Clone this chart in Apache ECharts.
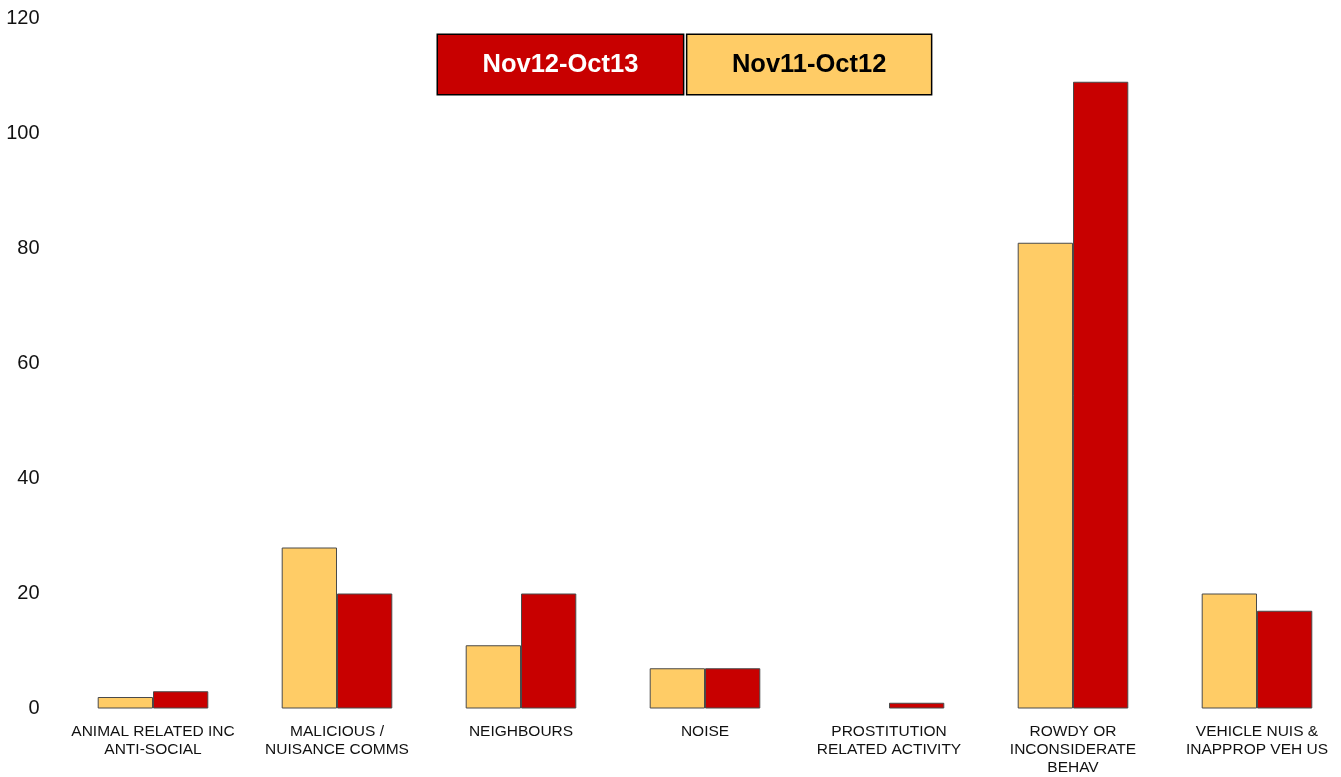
<!DOCTYPE html>
<html>
<head>
<meta charset="utf-8">
<script src="https://cdn.jsdelivr.net/npm/echarts@6/dist/echarts.min.js"></script>
<style>
	html, body { margin: 0; padding: 0; background: #fff; }
	#main { width: 1341px; height: 777px; }
</style>
</head>
<body>
<div id="main"></div>
<script>
	// categories and values
	var categories = [
		'ANIMAL RELATED INC\nANTI-SOCIAL',
		'MALICIOUS /\nNUISANCE COMMS',
		'NEIGHBOURS',
		'NOISE',
		'PROSTITUTION\nRELATED ACTIVITY',
		'ROWDY OR\nINCONSIDERATE\nBEHAV',
		'VEHICLE NUIS &\nINAPPROP VEH US'
	];
	var prevYear = [2, 28, 11, 7, 0, 81, 20];      // Nov11-Oct12
	var thisYear = [3, 20, 20, 7, 1, 109, 17];     // Nov12-Oct13
	var yTicks = [0, 20, 40, 60, 80, 100, 120];

	var RED = '#C80000';
	var YELLOW = '#FFCC66';

	var myChart = echarts.init(document.getElementById('main'));

	// zero bars get no outline (nothing is drawn for them in the original)
	function toBars(arr) {
		return arr.map(function(v) {
			return v === 0 ? { value: v, itemStyle: { borderWidth: 0 } } : v;
		});
	}

	var legendBox = {
		fontFamily: 'Liberation Sans, Arial, sans-serif',
		fontSize: 25.5,
		fontWeight: 'bold',
		lineHeight: 25,
		padding: [19, 44.5, 15, 44.5],
		borderColor: '#000',
		borderWidth: 1.5
	};

	var option = {
		animation: false,
		backgroundColor: '#fff',
		legend: {
			left: 427,
			top: 28.5,
			itemWidth: 0,
			itemHeight: 0,
			itemGap: -3,
			selectedMode: false,
			data: [
				{ name: 'Nov12-Oct13', icon: 'rect',
				  textStyle: Object.assign({}, legendBox, { color: '#fff', backgroundColor: RED }) },
				{ name: 'Nov11-Oct12', icon: 'rect',
				  textStyle: Object.assign({}, legendBox, { color: '#000', backgroundColor: YELLOW }) }
			]
		},
		// category centres sit on the grid edges (boundaryGap false),
		// the outer half-bands would not fit inside the canvas otherwise
		grid: {
			left: 153,
			top: 18.5,
			right: 84,
			bottom: 68.5
		},
		xAxis: {
			type: 'category',
			data: categories,
			boundaryGap: false,
			axisLine: { show: false },
			axisTick: { show: false },
			axisLabel: {
				interval: 0,
				margin: 14,
				color: '#111',
				fontFamily: 'Liberation Sans, Arial, sans-serif',
				fontSize: 15.5,
				lineHeight: 18,
				align: 'center'
			}
		},
		yAxis: {
			type: 'value',
			min: yTicks[0],
			max: yTicks[yTicks.length - 1],
			interval: yTicks[1] - yTicks[0],
			axisLine: { show: false },
			axisTick: { show: false },
			splitLine: { show: false },
			axisLabel: {
				margin: 113.5,
				color: '#111',
				fontFamily: 'Liberation Sans, Arial, sans-serif',
				fontSize: 20
			}
		},
		series: [
			{
				name: 'Nov11-Oct12',
				type: 'bar',
				data: toBars(prevYear),
				barWidth: 55.3,
				barGap: '0%',
				itemStyle: { color: YELLOW, borderColor: '#4a4a4a', borderWidth: 1 }
			},
			{
				name: 'Nov12-Oct13',
				type: 'bar',
				data: toBars(thisYear),
				barWidth: 55.3,
				barGap: '0%',
				itemStyle: { color: RED, borderColor: '#4a4a4a', borderWidth: 1 }
			}
		]
	};

	myChart.setOption(option);
</script>
</body>
</html>
